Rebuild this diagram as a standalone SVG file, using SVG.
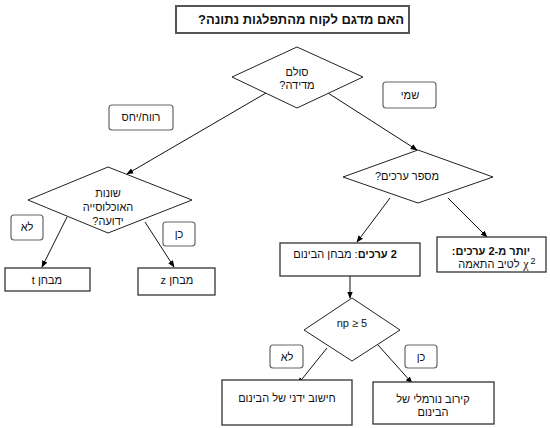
<svg xmlns="http://www.w3.org/2000/svg" width="550" height="428" viewBox="0 0 550 428">
<defs>
<marker id="ah" viewBox="0 0 10 10" refX="9" refY="5" markerWidth="7" markerHeight="7" orient="auto" markerUnits="userSpaceOnUse">
<path d="M0,1 L10,5 L0,9 Z" fill="#000"/>
</marker>
<style>
text{font-family:"Liberation Sans","DejaVu Sans",Arial,sans-serif;font-size:11px;fill:#111;text-anchor:middle}
.rtl{direction:rtl;unicode-bidi:embed}
.b{font-weight:bold}
.box{fill:#fff;stroke:#333;stroke-width:1.3}
.lab{fill:#fff;stroke:#666;stroke-width:1.2}
.dia{fill:#fff;stroke:#222;stroke-width:1}
.con line{stroke:#111;stroke-width:1;marker-end:url(#ah)}
</style>
</defs>
<rect width="550" height="428" fill="#fff"/>
<g id="title">
<rect x="176" y="6" width="233" height="27" fill="#fff" stroke="#555" stroke-width="2"/>
<text x="301" y="24" class="rtl b" style="font-size:13px">האם מדגם לקוח מהתפלגות נתונה?</text>
</g>
<g class="con" id="connectors">
<line x1="266" y1="93" x2="127" y2="174"/>
<line x1="328" y1="93" x2="417" y2="150"/>
<line x1="67" y1="217" x2="42" y2="267"/>
<line x1="145" y1="222" x2="174" y2="267"/>
<line x1="390" y1="198" x2="357" y2="242"/>
<line x1="448" y1="198" x2="487" y2="237"/>
<line x1="350" y1="276" x2="350" y2="298"/>
<line x1="327" y1="348" x2="298" y2="384"/>
<line x1="378" y1="345" x2="412" y2="383"/>
</g>
<g id="scale">
<polygon class="dia" points="232,77 297,47 363,77 297,108"/>
<text x="297" y="76" class="rtl">סולם</text>
<text x="297" y="89" class="rtl">מדידה?</text>
</g>
<g id="label-nominal">
<rect class="lab" x="383" y="82" width="53" height="26" rx="3"/>
<text x="410" y="99" class="rtl">שמי</text>
</g>
<g id="label-ratio">
<rect class="lab" x="109" y="105" width="64" height="25" rx="3"/>
<text x="141" y="121" class="rtl">רווח/יחס</text>
</g>
<g id="variance">
<polygon class="dia" points="28,200 108,167 192,200 108,233"/>
<text x="108" y="197" class="rtl">שונות</text>
<text x="108" y="211" class="rtl">האוכלוסייה</text>
<text x="108" y="225" class="rtl">ידועה?</text>
</g>
<g id="values">
<polygon class="dia" points="343,177 418,150 493,177 418,203"/>
<text x="407" y="180" class="rtl">מספר ערכים?</text>
</g>
<g id="label-no1">
<rect class="lab" x="11" y="215" width="32" height="25" rx="3"/>
<text x="27" y="231" class="rtl">לא</text>
</g>
<g id="label-yes1">
<rect class="lab" x="163" y="222" width="32" height="24" rx="3"/>
<text x="179" y="238" class="rtl">כן</text>
</g>
<g id="ttest">
<rect class="box" x="5" y="268" width="85" height="23"/>
<text x="47" y="284" class="rtl">מבחן t</text>
</g>
<g id="ztest">
<rect class="box" x="138" y="268" width="77" height="27"/>
<text x="177" y="284" class="rtl">מבחן z</text>
</g>
<g id="binomial">
<rect class="box" x="280" y="243" width="140" height="33"/>
<text x="345" y="258" class="rtl"><tspan class="b">2 ערכים</tspan>: מבחן הבינום</text>
</g>
<g id="chi">
<rect class="box" x="437" y="237" width="109" height="35"/>
<text x="491" y="255" class="rtl b">יותר מ-2 ערכים:</text>
<text x="489" y="268" class="rtl">לטיב התאמה</text>
<text x="526" y="268" style="font-family:'Liberation Serif',serif;font-size:12px">χ</text>
<text x="533" y="264" style="font-size:9px">2</text>
</g>
<g id="np">
<polygon class="dia" points="304,330 352,298 400,330 352,361"/>
<text x="352" y="327">np ≥ 5</text>
</g>
<g id="label-no2">
<rect class="lab" x="270" y="345" width="33" height="23" rx="3"/>
<text x="287" y="361" class="rtl">לא</text>
</g>
<g id="label-yes2">
<rect class="lab" x="405" y="345" width="32" height="23" rx="3"/>
<text x="421" y="361" class="rtl">כן</text>
</g>
<g id="manual">
<rect class="box" x="222" y="380" width="130" height="45"/>
<text x="287" y="402" class="rtl">חישוב ידני של הבינום</text>
</g>
<g id="normal">
<rect class="box" x="373" y="382" width="121" height="42"/>
<text x="433" y="403" class="rtl">קירוב נורמלי של</text>
<text x="433" y="416" class="rtl">הבינום</text>
</g>
</svg>
